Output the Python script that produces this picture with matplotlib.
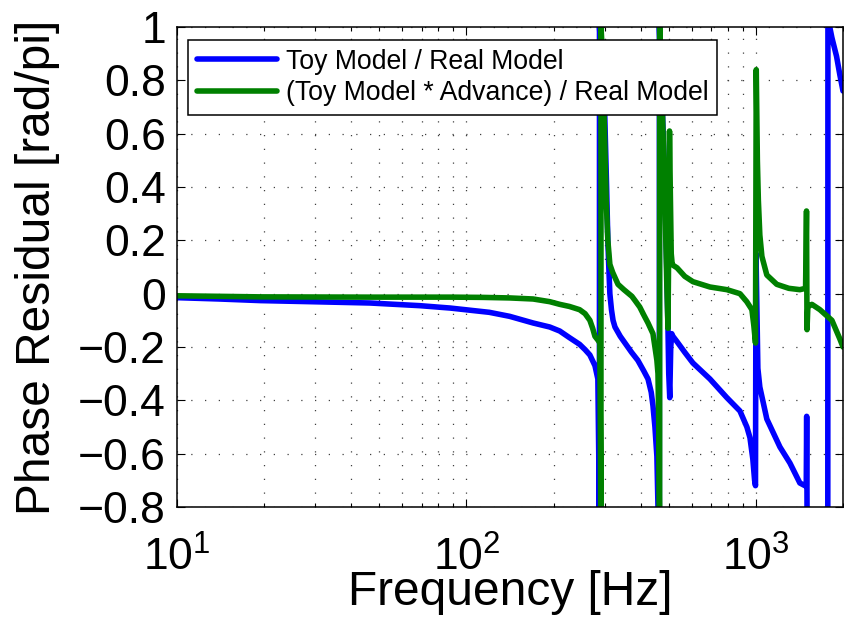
import matplotlib
matplotlib.use("Agg")
import matplotlib.pyplot as plt
from matplotlib.ticker import LogLocator, FuncFormatter, NullFormatter, FixedLocator

plt.rcParams['font.family'] = ['Liberation Sans', 'DejaVu Sans']
plt.rcParams['mathtext.fontset'] = 'custom'
plt.rcParams['mathtext.rm'] = 'Liberation Sans'
plt.rcParams['mathtext.it'] = 'Liberation Sans:italic'
plt.rcParams['mathtext.bf'] = 'Liberation Sans:bold'

### Phase residual data ###
# Toy Model / Real Model
toy_freq = [10, 14, 19.4, 28.8, 46.4, 69, 88, 120, 141, 170, 194, 210, 227, 246, 257, 267, 278,
            284.5, 286.5, 288, 288.2, 292, 300, 305, 308, 310.6, 313, 317, 321, 326, 340, 353, 372,
            391, 410, 424, 435, 441, 448, 455, 459, 462, 464, 464.2, 475, 485, 492, 497, 500, 504,
            508, 512, 517, 534, 568, 606, 694, 794, 881, 931, 954, 976, 990, 997, 1001, 1008, 1016,
            1032, 1091, 1211, 1311, 1419, 1477, 1493, 1498, 1503, 1600, 1700, 1772, 1774, 1800,
            1831, 1900, 1951, 2000]
toy_phase = [-0.015, -0.02, -0.026, -0.03, -0.035, -0.045, -0.054, -0.07, -0.085, -0.11, -0.125,
             -0.14, -0.165, -0.19, -0.21, -0.23, -0.27, -0.32, -0.6, -1.0, 1.0, 0.9, 0.7, 0.4, 0.2,
             0.09, 0.0, -0.06, -0.1, -0.125, -0.16, -0.185, -0.22, -0.25, -0.29, -0.32, -0.37,
             -0.42, -0.5, -0.61, -0.8, -0.95, -1.0, 1.0, 0.7, 0.4, 0.1, -0.13, -0.3, -0.39, -0.2,
             -0.15, -0.16, -0.18, -0.22, -0.26, -0.32, -0.39, -0.44, -0.5, -0.54, -0.62, -0.7,
             -0.72, 0.15, -0.05, -0.28, -0.35, -0.47, -0.575, -0.635, -0.71, -0.72, -0.72, -0.46,
             -0.85, -0.9, -0.95, -1.0, 1.0, 1.0, 0.96, 0.89, 0.82, 0.76]

# (Toy Model * Advance) / Real Model
adv_freq = [10, 14, 19.4, 46.4, 88, 114, 141, 170, 194, 210, 227, 246, 257, 267, 273, 278, 285,
            289, 290.5, 291.5, 291.7, 295, 300, 304, 308, 313, 320, 334, 350, 373, 382, 397, 410,
            424, 441, 448, 455, 459, 462, 465, 465.2, 475, 485, 492, 497, 500, 503, 506, 510, 514,
            520, 534, 568, 606, 694, 794, 881, 930, 969, 984, 997, 1003, 1012, 1020, 1032, 1049,
            1091, 1181, 1300, 1419, 1485, 1496, 1502, 1512, 1561, 1664, 1831, 1951, 2000]
adv_phase = [-0.008, -0.01, -0.012, -0.013, -0.013, -0.014, -0.016, -0.02, -0.03, -0.04, -0.048,
             -0.06, -0.075, -0.1, -0.13, -0.16, -0.175, -0.185, -0.6, -1.0, 1.0, 0.9, 0.6, 0.35,
             0.2, 0.11, 0.08, 0.035, 0.015, -0.01, -0.025, -0.05, -0.08, -0.11, -0.15, -0.2,
             -0.25, -0.3, -0.5, -1.0, 1.0, 0.7, 0.35, 0.05, -0.13, 0.2, 0.61, 0.4, 0.15, 0.11,
             0.105, 0.097, 0.065, 0.045, 0.025, 0.015, 0.0, -0.03, -0.06, -0.12, -0.185, 0.84,
             0.5, 0.35, 0.22, 0.14, 0.07, 0.035, 0.02, 0.015, 0.02, 0.31, -0.135, -0.05, -0.04,
             -0.06, -0.1, -0.17, -0.2]

y_ticks = [-0.8, -0.6, -0.4, -0.2, 0, 0.2, 0.4, 0.6, 0.8, 1]

fig = plt.figure(figsize=(8.44, 6.31), dpi=100)
ax = fig.add_axes([177/844, 1 - 507/631, 666/844, 480/631])

ax.semilogx(toy_freq, toy_phase, color=(0, 0, 1), linewidth=4,
            solid_joinstyle='round', solid_capstyle='round', label='Toy Model / Real Model')
ax.semilogx(adv_freq, adv_phase, color=(0, 0.5, 0), linewidth=4,
            solid_joinstyle='round', solid_capstyle='round',
            label='(Toy Model * Advance) / Real Model')

ax.set_xlim(10, 2000)
ax.set_ylim(-0.8, 1)
ax.yaxis.set_major_locator(FixedLocator(y_ticks))
ax.yaxis.set_major_formatter(FuncFormatter(lambda v, p: ('%g' % round(v, 1)).replace('-', '\u2212')))
ax.xaxis.set_major_locator(LogLocator(base=10))
ax.xaxis.set_minor_locator(LogLocator(base=10, subs=range(2, 10)))
ax.xaxis.set_minor_formatter(NullFormatter())

### Grid and ticks, MATLAB style ###
dots = (0, (1, 10))
ax.set_axisbelow(True)
ax.grid(True, which='major', linestyle=dots, color='0.25', linewidth=0.9)
ax.xaxis.grid(True, which='minor', linestyle=dots, color='0.25', linewidth=0.9)
ax.tick_params(which='both', direction='in', top=True, right=True, width=0.8)
ax.tick_params(which='major', length=6, labelsize=32)
ax.tick_params(which='minor', length=3)
ax.tick_params(axis='x', which='major', pad=21)
ax.tick_params(axis='y', which='major', pad=8)
for s in ax.spines.values():
    s.set_linewidth(1.1)

ax.set_xlabel('Frequency [Hz]', fontsize=34.5)
ax.set_ylabel('Phase Residual [rad/pi]', fontsize=34.5)
ax.xaxis.set_label_coords(0.5, -0.132)
ax.yaxis.set_label_coords(-0.175, 0.5)

leg = ax.legend(loc='upper left', bbox_to_anchor=(188/844, 1 - 40/631),
                bbox_transform=fig.transFigure, borderaxespad=0, fontsize=19.2,
                fancybox=False, framealpha=1, edgecolor='k', borderpad=0.33,
                labelspacing=0.2, handlelength=3.0, handletextpad=0.34)
leg.get_frame().set_linewidth(1.1)

fig.savefig('out.png', dpi=100)
